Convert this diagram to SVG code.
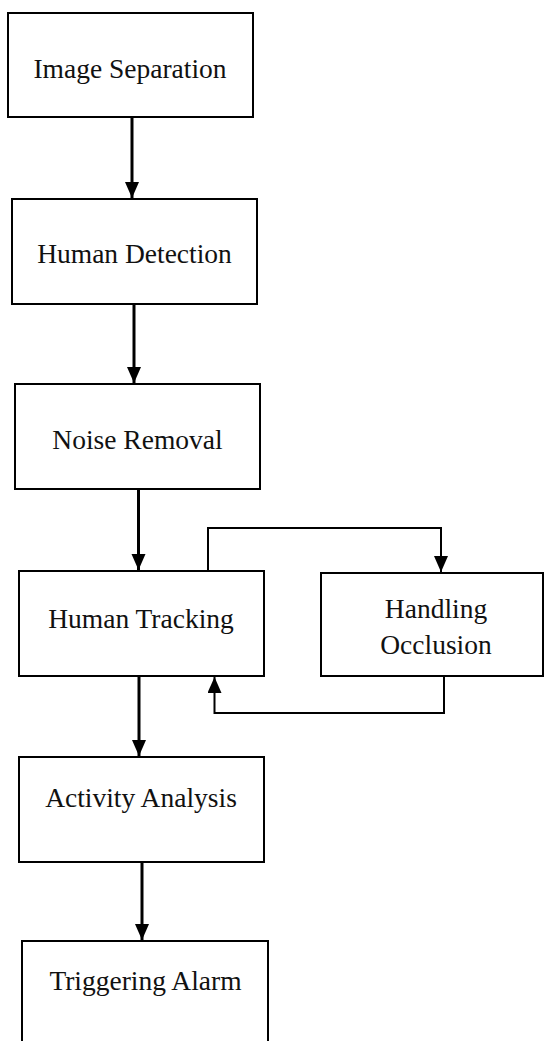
<svg xmlns="http://www.w3.org/2000/svg" width="545" height="1041" viewBox="0 0 545 1041">
<style>
.box{fill:#fff;stroke:#000;stroke-width:2}
.lbl{font-family:"Liberation Serif","Times New Roman",serif;font-size:27.5px;fill:#111;text-anchor:middle}
.main{fill:none;stroke:#000;stroke-width:3}
.thin{fill:none;stroke:#000;stroke-width:2}
</style>
<defs>
<marker id="ah" markerUnits="userSpaceOnUse" markerWidth="18" markerHeight="16" refX="16" refY="7" orient="auto">
<path d="M0,0 L16,7 L0,14 z" fill="#000"/>
</marker>
</defs>
<rect width="545" height="1041" fill="#fff"/>
<g id="connectors">
<line class="main" x1="132" y1="117" x2="132" y2="198" marker-end="url(#ah)"/>
<line class="main" x1="134" y1="304" x2="134" y2="383" marker-end="url(#ah)"/>
<line class="main" x1="138.5" y1="489" x2="138.5" y2="570" marker-end="url(#ah)"/>
<line class="main" x1="139" y1="676" x2="139" y2="756" marker-end="url(#ah)"/>
<line class="main" x1="142" y1="859" x2="142" y2="940" marker-end="url(#ah)"/>
<polyline class="thin" points="208,571 208,528 441,528 441,572" marker-end="url(#ah)"/>
<polyline class="thin" points="444,676 444,713 214.5,713 214.5,677" marker-end="url(#ah)"/>
</g>
<g id="image-separation"><rect class="box" x="8" y="13" width="245" height="104"/><text class="lbl" x="130" y="78">Image Separation</text></g>
<g id="human-detection"><rect class="box" x="12" y="199" width="245" height="105"/><text class="lbl" x="134.5" y="263">Human Detection</text></g>
<g id="noise-removal"><rect class="box" x="15" y="384" width="245" height="105"/><text class="lbl" x="137.5" y="449">Noise Removal</text></g>
<g id="human-tracking"><rect class="box" x="19" y="571" width="245" height="105"/><text class="lbl" x="141" y="628">Human Tracking</text></g>
<g id="handling-occlusion"><rect class="box" x="321" y="573" width="222" height="103"/><text class="lbl" x="436" y="618">Handling</text><text class="lbl" x="436" y="654">Occlusion</text></g>
<g id="activity-analysis"><rect class="box" x="19" y="757" width="245" height="105"/><text class="lbl" x="141" y="807">Activity Analysis</text></g>
<g id="triggering-alarm"><rect class="box" x="22" y="941" width="246" height="120"/><text class="lbl" x="145.5" y="990">Triggering Alarm</text></g>
</svg>
